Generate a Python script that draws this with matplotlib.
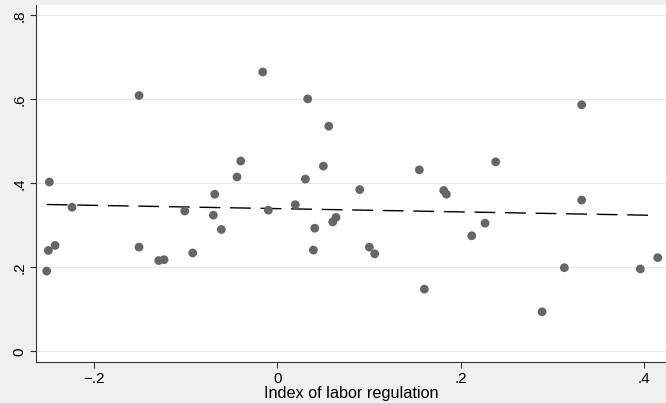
import numpy as np
import matplotlib
matplotlib.use("Agg")
import matplotlib.pyplot as plt

# labor regulation index vs outcome
labor_index = [-0.2487, -0.1509, -0.0159, 0.0331, 0.0561, -0.0399, -0.0440, 0.0502,
               0.0306, -0.0683, 0.3320, 0.1549, 0.2382, 0.0899, 0.1815, 0.1844,
               0.3320, -0.2516, -0.2498, -0.2425, -0.2240, -0.1509, -0.1294, -0.1236,
               -0.1010, -0.0923, -0.0698, -0.0611, -0.0098, 0.0196, 0.0408, 0.0393,
               0.0604, 0.0640, 0.1004, 0.1062, 0.2121, 0.2266, 0.1604, 0.2888,
               0.3131, 0.3960, 0.4150]
outcome = [0.403, 0.609, 0.665, 0.601, 0.536, 0.453, 0.415, 0.441,
           0.410, 0.374, 0.587, 0.432, 0.451, 0.385, 0.383, 0.374,
           0.360, 0.191, 0.240, 0.252, 0.343, 0.248, 0.216, 0.218,
           0.334, 0.234, 0.324, 0.290, 0.336, 0.349, 0.293, 0.241,
           0.308, 0.319, 0.248, 0.232, 0.275, 0.305, 0.148, 0.094,
           0.199, 0.196, 0.223]

x_ticks = [-0.2, 0, 0.2, 0.4]
x_tick_labels = ["\u2212.2", "0", ".2", ".4"]
y_ticks = [0, 0.2, 0.4, 0.6, 0.8]
y_tick_labels = ["0", ".2", ".4", ".6", ".8"]

plt.rcParams['font.family'] = ['Liberation Sans', 'DejaVu Sans']
plt.rcParams['lines.scale_dashes'] = False

fig = plt.figure(figsize=(6.66, 4.03), dpi=100, facecolor='#f0f0f0')
ax = fig.add_axes([36 / 666, 41 / 403, 1 - 36 / 666, 357 / 403])
ax.set_facecolor('white')

x = np.array(labor_index)
y = np.array(outcome)

# linear fit line
slope, intercept = np.polyfit(x, y, 1)
xs = np.array([x.min(), x.max()])
ax.plot(xs, intercept + slope * xs, color='black', lw=1.0, dashes=(15, 7), zorder=2)

ax.scatter(x, y, s=40, color='#666666', edgecolors='none', zorder=3)

ax.set_xlim(-0.2633, 0.424)
ax.set_ylim(-0.0255, 0.8245)

ax.set_xticks(x_ticks)
ax.set_xticklabels(x_tick_labels, fontsize=11)
ax.set_yticks(y_ticks)
ax.set_yticklabels(y_tick_labels, fontsize=11, rotation=90, va='center')
ax.tick_params(length=4, width=0.8, color='#333333', pad=3)

ax.grid(axis='y', color='#e8e8e8', lw=0.8)
ax.set_axisbelow(True)
for side in ['top', 'right']:
    ax.spines[side].set_visible(False)
for side in ['left', 'bottom']:
    ax.spines[side].set_color('#333333')
    ax.spines[side].set_linewidth(0.8)

ax.set_xlabel("Index of labor regulation", fontsize=11.7, labelpad=0)

fig.savefig("out.png", dpi=100, facecolor=fig.get_facecolor())
